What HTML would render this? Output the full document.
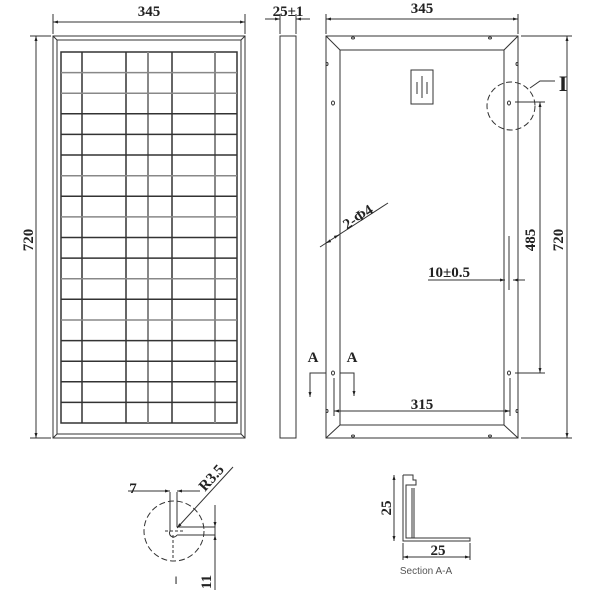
<!DOCTYPE html>
<html><head><meta charset="utf-8"><style>
html,body{margin:0;padding:0;background:#fff;}
svg{display:block}
text{font-family:"Liberation Serif",serif;fill:#222}
</style></head><body>
<svg width="600" height="600" viewBox="0 0 600 600" xmlns="http://www.w3.org/2000/svg">
<defs>
<marker id="a" viewBox="0 0 10 10" refX="10" refY="5" markerWidth="7" markerHeight="5" orient="auto-start-reverse"><path d="M0,2 L10,5 L0,8 z" fill="#222"/></marker>
</defs>
<g stroke="#333" stroke-width="1" fill="none">
<rect x="53" y="36" width="192" height="402"/>
<rect x="57" y="40" width="184" height="394"/>
<line x1="53" y1="36" x2="57" y2="40"/><line x1="245" y1="36" x2="241" y2="40"/>
<line x1="53" y1="438" x2="57" y2="434"/><line x1="245" y1="438" x2="241" y2="434"/>
<rect x="61" y="52" width="176" height="371" stroke-width="1.5"/>
<g stroke-width="1.5">
<line x1="82" y1="52" x2="82" y2="423"/>
<line x1="126" y1="52" x2="126" y2="423"/>
<line x1="148" y1="52" x2="148" y2="423" stroke="#888" stroke-width="2"/>
<line x1="172" y1="52" x2="172" y2="423"/>
<line x1="215" y1="52" x2="215" y2="423" stroke="#888" stroke-width="2"/>
</g>
<g stroke-width="1.5">
<line x1="61" y1="72.6" x2="237" y2="72.6" stroke="#888"/>
<line x1="61" y1="93.2" x2="237" y2="93.2" stroke="#888"/>
<line x1="61" y1="113.8" x2="237" y2="113.8"/>
<line x1="61" y1="134.4" x2="237" y2="134.4"/>
<line x1="61" y1="155" x2="237" y2="155"/>
<line x1="61" y1="175.7" x2="237" y2="175.7" stroke="#888"/>
<line x1="61" y1="196.3" x2="237" y2="196.3"/>
<line x1="61" y1="216.9" x2="237" y2="216.9" stroke="#888"/>
<line x1="61" y1="237.5" x2="237" y2="237.5"/>
<line x1="61" y1="258.1" x2="237" y2="258.1"/>
<line x1="61" y1="278.7" x2="237" y2="278.7" stroke="#888"/>
<line x1="61" y1="299.3" x2="237" y2="299.3"/>
<line x1="61" y1="320" x2="237" y2="320" stroke="#888"/>
<line x1="61" y1="340.6" x2="237" y2="340.6"/>
<line x1="61" y1="361.2" x2="237" y2="361.2"/>
<line x1="61" y1="381.8" x2="237" y2="381.8"/>
<line x1="61" y1="402.4" x2="237" y2="402.4"/>
</g>
<line x1="53" y1="14" x2="53" y2="34"/><line x1="245" y1="14" x2="245" y2="34"/>
<line x1="53" y1="22" x2="245" y2="22" marker-start="url(#a)" marker-end="url(#a)"/>
<line x1="30" y1="36" x2="51" y2="36"/><line x1="30" y1="438" x2="51" y2="438"/>
<line x1="36" y1="36" x2="36" y2="438" marker-start="url(#a)" marker-end="url(#a)"/>
<rect x="280" y="36" width="16" height="402"/>
<line x1="280" y1="14" x2="280" y2="34"/><line x1="296" y1="14" x2="296" y2="34"/>
<line x1="265" y1="19" x2="280" y2="19" marker-end="url(#a)"/>
<line x1="310" y1="19" x2="296" y2="19" marker-end="url(#a)"/>
<rect x="326" y="36" width="192" height="402"/>
<rect x="340" y="50" width="164" height="375"/>
<line x1="326" y1="36" x2="340" y2="50"/><line x1="518" y1="36" x2="504" y2="50"/>
<line x1="326" y1="438" x2="340" y2="425"/><line x1="518" y1="438" x2="504" y2="425"/>
<rect x="411" y="70" width="22" height="34"/>
<line x1="422" y1="76" x2="422" y2="98"/><line x1="417" y1="82" x2="417" y2="94"/><line x1="427" y1="82" x2="427" y2="94"/>
<ellipse cx="333" cy="103" rx="1.5" ry="2"/><ellipse cx="509" cy="103" rx="1.5" ry="2"/>
<ellipse cx="333" cy="373" rx="1.5" ry="2"/><ellipse cx="509" cy="373" rx="1.5" ry="2"/>
<ellipse cx="327" cy="64" rx="1" ry="1.5"/><ellipse cx="517" cy="64" rx="1" ry="1.5"/>
<ellipse cx="327" cy="411" rx="1" ry="1.5"/><ellipse cx="517" cy="411" rx="1" ry="1.5"/>
<ellipse cx="353" cy="38" rx="1.5" ry="1"/><ellipse cx="490" cy="38" rx="1.5" ry="1"/>
<ellipse cx="353" cy="436" rx="1.5" ry="1"/><ellipse cx="490" cy="436" rx="1.5" ry="1"/>
<circle cx="511" cy="106" r="24" stroke-dasharray="6,3"/>
<polyline points="530,88 540,81 555,81"/>
<line x1="515" y1="102" x2="545" y2="102"/><line x1="515" y1="373" x2="545" y2="373"/>
<line x1="540" y1="102" x2="540" y2="373" marker-start="url(#a)" marker-end="url(#a)"/>
<line x1="521" y1="36" x2="572" y2="36"/><line x1="521" y1="438" x2="572" y2="438"/>
<line x1="567" y1="36" x2="567" y2="438" marker-start="url(#a)" marker-end="url(#a)"/>
<line x1="326" y1="14" x2="326" y2="34"/><line x1="518" y1="14" x2="518" y2="34"/>
<line x1="326" y1="19" x2="518" y2="19" marker-start="url(#a)" marker-end="url(#a)"/>
<line x1="320" y1="247" x2="388" y2="203"/>
<line x1="330" y1="241" x2="326" y2="243" marker-end="url(#a)"/>
<line x1="335" y1="237" x2="339" y2="235" marker-end="url(#a)"/>
<line x1="509" y1="236" x2="509" y2="290"/>
<line x1="428" y1="280" x2="505" y2="280" marker-end="url(#a)"/>
<line x1="525" y1="280" x2="513" y2="280" marker-end="url(#a)"/>
<polyline points="326,373 310,373 310,397" marker-end="url(#a)"/>
<polyline points="340,373 354,373 354,396" marker-end="url(#a)"/>
<line x1="334" y1="378" x2="334" y2="416"/><line x1="510" y1="378" x2="510" y2="416"/>
<line x1="334" y1="411" x2="510" y2="411" marker-start="url(#a)" marker-end="url(#a)"/>
<circle cx="174" cy="531" r="30" stroke-dasharray="6,3"/>
<line x1="170" y1="492" x2="170" y2="531"/><line x1="177" y1="492" x2="177" y2="527"/>
<line x1="177" y1="527" x2="215" y2="527"/><line x1="177" y1="535" x2="215" y2="535"/>
<path d="M170,531 A4,4 0 0 0 177,535"/>
<line x1="165" y1="531" x2="185" y2="531" stroke-dasharray="3,2"/>
<line x1="173" y1="535" x2="173" y2="560" stroke-dasharray="3,2"/>
<line x1="128" y1="491" x2="170" y2="491" marker-end="url(#a)"/>
<line x1="200" y1="491" x2="177" y2="491" marker-end="url(#a)"/>
<line x1="233" y1="467" x2="177" y2="528" marker-end="url(#a)"/>
<line x1="215" y1="505" x2="215" y2="590"/>
<line x1="215" y1="510" x2="215" y2="527" marker-end="url(#a)"/>
<line x1="215" y1="550" x2="215" y2="535" marker-end="url(#a)"/>
<polyline points="403,475 413,475 413,480 416,480 416,485 406,485 406,538 470,538 470,541 403,541 403,475"/>
<line x1="412" y1="488" x2="412" y2="538"/><line x1="414" y1="488" x2="414" y2="538"/>
<line x1="394" y1="475" x2="394" y2="541" marker-start="url(#a)" marker-end="url(#a)"/>
<line x1="403" y1="543" x2="403" y2="560"/><line x1="470" y1="543" x2="470" y2="560"/>
<line x1="403" y1="557" x2="470" y2="557" marker-start="url(#a)" marker-end="url(#a)"/>
</g>
<g font-size="15" font-weight="bold">
<text x="149" y="16" text-anchor="middle">345</text>
<text x="288" y="16" text-anchor="middle">25±1</text>
<text x="422" y="13" text-anchor="middle">345</text>
<text transform="translate(33,240) rotate(-90)" text-anchor="middle">720</text>
<text transform="translate(535,240) rotate(-90)" text-anchor="middle">485</text>
<text transform="translate(563,240) rotate(-90)" text-anchor="middle">720</text>
<text x="428" y="277">10±0.5</text>
<text transform="translate(347,230) rotate(-33)">2-Φ4</text>
<text x="422" y="409" text-anchor="middle">315</text>
<text x="313" y="362" text-anchor="middle">A</text>
<text x="352" y="362" text-anchor="middle">A</text>
<text x="563" y="91" text-anchor="middle" font-size="22">I</text>
<text x="133" y="493" text-anchor="middle">7</text>
<text transform="translate(205,492) rotate(-48)">R3.5</text>
<text transform="translate(211,582) rotate(-90)" text-anchor="middle">11</text>
<text transform="translate(391,508) rotate(-90)" text-anchor="middle">25</text>
<text x="438" y="555" text-anchor="middle">25</text>
</g>
<text x="176" y="584" text-anchor="middle" font-size="11" style="font-family:'Liberation Sans',sans-serif">I</text>
<text x="426" y="574" text-anchor="middle" font-size="10" style="font-family:'Liberation Sans',sans-serif;fill:#555">Section A-A</text>
</svg>
</body></html>
